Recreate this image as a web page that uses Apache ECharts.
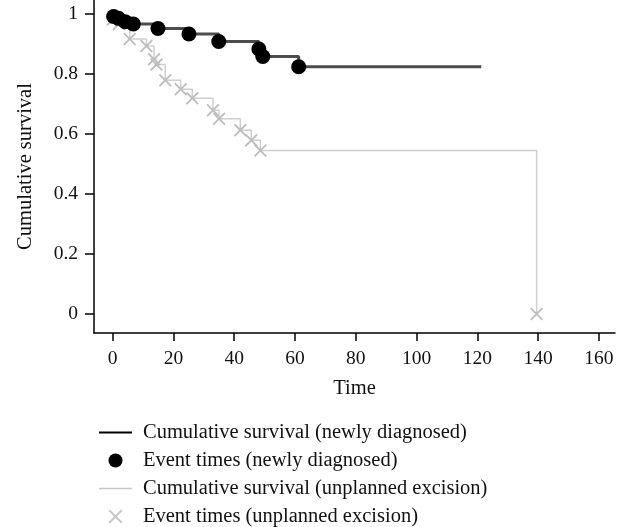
<!DOCTYPE html>
<html>
<head>
<meta charset="utf-8">
<script src="https://cdn.jsdelivr.net/npm/echarts@6/dist/echarts.min.js"></script>
<style>
  html, body { margin: 0; padding: 0; background: #fff; }
  #chart { width: 620px; height: 527px; }
</style>
</head>
<body>
<div id="chart"></div>
<script>
// tick labels
const xTicks = [0, 20, 40, 60, 80, 100, 120, 140, 160];
const yTicks = [0, 0.2, 0.4, 0.6, 0.8, 1];

// newly diagnosed: event times [time, survival]
const newlyEvents = [
  [0.3, 0.99], [1.9, 0.984], [4.1, 0.973], [6.8, 0.965], [14.9, 0.95],
  [25.1, 0.932], [34.9, 0.907], [48.1, 0.882], [49.4, 0.857], [61.2, 0.823]
];
const newlyEnd = [121.3, 0.823];

// unplanned excision: event times [time, survival]
const unplannedEvents = [
  [0, 0.98], [2, 0.965], [5.6, 0.915], [11.1, 0.892], [13.6, 0.848],
  [14.4, 0.83], [17.3, 0.778], [22.4, 0.748], [26.2, 0.718], [33, 0.678],
  [35, 0.65], [42, 0.612], [45.6, 0.578], [48.6, 0.544], [139.5, 0]
];

const names = [
  "Cumulative survival (newly diagnosed)",
  "Event times (newly diagnosed)",
  "Cumulative survival (unplanned excision)",
  "Event times (unplanned excision)"
];

const font = '"Liberation Serif", "DejaVu Serif", serif';
const crossPath = "path://M0,1L1,0L5,4L9,0L10,1L6,5L10,9L9,10L5,6L1,10L0,9L4,5Z";

const newlyLine = [[0, 1]].concat(newlyEvents, [newlyEnd]);
const unplannedLine = [[0, 1]].concat(unplannedEvents);

let myChart = echarts.init(document.getElementById("chart"));
let option = {
  animation: false,
  textStyle: { fontFamily: font, color: "#111" },
  grid: { left: 94, right: 5, top: 0, bottom: 194, containLabel: false },
  xAxis: {
    type: "value",
    min: -6.15,
    max: 165.3,
    name: "Time",
    nameLocation: "middle",
    nameGap: 45,
    nameTextStyle: { fontFamily: font, fontSize: 20.5, color: "#111" },
    splitLine: { show: false },
    axisLine: { onZero: false, lineStyle: { color: "#000", width: 1.5 } },
    axisTick: { customValues: xTicks, length: 8, lineStyle: { color: "#000", width: 1.5 } },
    axisLabel: { customValues: xTicks, margin: 16, fontFamily: font, fontSize: 19.5, color: "#111" }
  },
  yAxis: {
    type: "value",
    min: -0.063,
    max: 1.045,
    name: "Cumulative survival",
    nameLocation: "middle",
    nameGap: 58,
    nameTextStyle: { fontFamily: font, fontSize: 20.5, color: "#111" },
    splitLine: { show: false },
    axisLine: { show: true, onZero: false, lineStyle: { color: "#000", width: 1.5 } },
    axisTick: { customValues: yTicks, length: 9, lineStyle: { color: "#000", width: 1.5 } },
    axisLabel: { customValues: yTicks, margin: 16, fontFamily: font, fontSize: 19.5, color: "#111" }
  },
  legend: {
    orient: "vertical",
    left: 98,
    top: 422,
    padding: 0,
    itemWidth: 33,
    itemHeight: 14,
    itemGap: 7,
    textStyle: { fontFamily: font, fontSize: 20.5, color: "#111", padding: [0, 0, 0, 6] },
    data: [
      { name: names[0], lineStyle: { color: "#000", width: 2 }, itemStyle: { opacity: 0 } },
      { name: names[1], icon: "circle" },
      { name: names[2], lineStyle: { color: "#c8c8c8", width: 1.5 }, itemStyle: { opacity: 0 } },
      { name: names[3], icon: crossPath, itemStyle: { color: "#c8c8c8" } }
    ]
  },
  series: [
    {
      name: names[2],
      type: "line",
      step: "end",
      symbol: "none",
      data: unplannedLine,
      lineStyle: { color: "#cfcfcf", width: 1.5 },
      itemStyle: { color: "#cfcfcf" },
      z: 1
    },
    {
      name: names[3],
      type: "scatter",
      symbol: crossPath,
      symbolSize: 13,
      data: unplannedEvents,
      itemStyle: { color: "#bdbdbd", opacity: 1 },
      z: 2
    },
    {
      name: names[0],
      type: "line",
      step: "end",
      symbol: "none",
      data: newlyLine,
      lineStyle: { color: "#4d4d4d", width: 3 },
      itemStyle: { color: "#000" },
      z: 3
    },
    {
      name: names[1],
      type: "scatter",
      symbol: "circle",
      symbolSize: 15,
      data: newlyEvents,
      itemStyle: { color: "#000", opacity: 1 },
      z: 4
    }
  ]
};
myChart.setOption(option);
</script>
</body>
</html>
